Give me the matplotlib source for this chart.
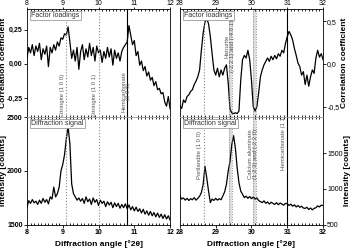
import numpy as np
import matplotlib
matplotlib.use('Agg')
import matplotlib.pyplot as plt
from matplotlib.ticker import FuncFormatter, MultipleLocator

plt.rcParams['font.family'] = ['Liberation Sans', 'DejaVu Sans']

# angle grids (step 0.05 deg 2theta)
ang_low = np.round(np.arange(8.0, 12.0001, 0.05), 2)
ang_high = np.round(np.arange(28.0, 32.0001, 0.05), 2)

# factor loadings, 8-12 deg
corr_low = [0.04, 0.12, 0.08, 0.14, 0.06, 0.13, 0.09, 0.15, 0.03, 0.11,
            0.07, 0.13, -0.02, 0.12, 0.08, 0.14, 0.10, 0.16, 0.13, 0.19,
            0.18, 0.22, 0.21, 0.27, 0.16, 0.04, 0.10, 0.02, 0.12, -0.04,
            0.09, 0.14, 0.03, 0.11, 0.05, 0.15, 0.06, 0.12, 0.02, 0.13,
            0.08, 0.10, 0.01, 0.09, 0.04, 0.12, 0.05, 0.11, -0.01, 0.10,
            0.04, 0.08, 0.02, 0.09, 0.12, 0.14, 0.16, 0.28, 0.21, 0.14,
            0.17, 0.06, 0.09, -0.01, 0.02, -0.05, -0.02, -0.09, -0.06, -0.12,
            -0.10, -0.16, -0.13, -0.19, -0.18, -0.22, -0.21, -0.28, -0.31, -0.24,
            -0.33]

# diffraction signal, 8-12 deg
int_low = [1660, 1725, 1700, 1735, 1705, 1720, 1690, 1730, 1700, 1745,
           1710, 1735, 1695, 1760, 1740, 1850, 1760, 1790, 1850, 2000,
           2060, 2150, 2300, 2410, 2250, 1880, 1790, 1760, 1730, 1750,
           1720, 1745, 1700, 1760, 1715, 1740, 1690, 1750, 1710, 1735,
           1680, 1730, 1700, 1720, 1670, 1715, 1685, 1710, 1660, 1705,
           1670, 1700, 1655, 1690, 1660, 1695, 1650, 1685, 1640, 1670,
           1630, 1665, 1625, 1650, 1610, 1645, 1600, 1630, 1590, 1625,
           1585, 1615, 1575, 1610, 1570, 1600, 1560, 1595, 1555, 1585,
           1545]

# factor loadings, 28-32 deg
corr_high = [-0.49, -0.52, -0.42, -0.45, -0.38, -0.36, -0.32, -0.30, -0.24, -0.20,
             -0.15, -0.07, 0.16, 0.36, 0.49, 0.53, 0.47, 0.32, 0.12, -0.07,
             -0.13, -0.05, -0.15, -0.07, -0.13, -0.05, -0.01, -0.22, -0.53, -0.57,
             -0.58, -0.57, -0.58, -0.55, -0.19, 0.05, 0.10, 0.07, 0.16, 0.05,
             -0.19, -0.50, -0.55, -0.50, -0.34, -0.15, -0.07, -0.01, 0.03, 0.07,
             0.03, 0.09, 0.05, 0.10, 0.06, 0.12, 0.09, 0.16, 0.13, 0.24,
             0.32, 0.38, 0.34, 0.28, 0.18, 0.10, 0.01, -0.03, -0.13, -0.09,
             -0.24, -0.13, -0.26, -0.15, -0.07, -0.11, 0.07, 0.16, 0.08, 0.12,
             0.05]

# diffraction signal, 28-32 deg
int_high = [903, 860, 875, 845, 870, 840, 865, 850, 880, 845,
            870, 900, 950, 1064, 1316, 1155, 972, 811, 860, 840,
            870, 845, 865, 850, 903, 960, 1064, 1250, 1385, 1615,
            1740, 1570, 1293, 1087, 972, 926, 880, 900, 870, 895,
            865, 890, 860, 875, 840, 825, 810, 835, 800, 820,
            790, 815, 800, 785, 810, 780, 805, 790, 775, 800,
            795, 770, 790, 760, 780, 750, 770, 745, 760, 735,
            730, 745, 715, 735, 710, 730, 740, 765, 750, 775,
            770]

corr_label = 'Correlation coefficient'
int_label = 'Intensity [counts]'
x_label = 'Diffraction angle [°2θ]'

fig = plt.figure(figsize=(3.5, 2.48), dpi=100)
axL_top = fig.add_axes([0.077, 0.528, 0.409, 0.435])
axL_bot = fig.add_axes([0.077, 0.093, 0.409, 0.435])
axR_top = fig.add_axes([0.514, 0.528, 0.409, 0.435])
axR_bot = fig.add_axes([0.514, 0.093, 0.409, 0.435])

fs = 5
ann_col = '#555555'


def comma_fmt(nd):
    return FuncFormatter(lambda v, p: ('{:.%df}' % nd).format(v).replace('.', ','))


def style(ax, top, right):
    ax.tick_params(axis='both', labelsize=fs, width=0.6, length=2, pad=1)
    for lab in ax.get_xticklabels() + ax.get_yticklabels():
        lab.set_fontweight('bold')
    ax.xaxis.set_major_locator(MultipleLocator(1))
    ax.xaxis.set_minor_locator(MultipleLocator(0.1))
    ax.tick_params(axis='x', which='minor', direction='in', length=1.5,
                   width=0.6, top=True, bottom=True)
    ax.tick_params(axis='x', which='major', top=top, bottom=not top,
                   labeltop=top, labelbottom=not top)
    if top:
        ax.tick_params(axis='x', which='major', pad=0.3, length=1.5)
    ax.tick_params(axis='y', which='major', left=not right, right=right,
                   labelleft=not right, labelright=right)
    for s in ax.spines.values():
        s.set_linewidth(0.6)
    ax.spines['bottom' if top else 'top'].set_color('#999999')


def boxlabel(ax, txt):
    ax.text(0.03, 0.975, txt, transform=ax.transAxes, fontsize=fs, va='top',
            ha='left', color='#333333',
            bbox=dict(boxstyle='square,pad=0.15', fc='white', ec='#888888', lw=0.5))


def vline(ax, x, ls):
    ax.axvline(x, color='#888888' if ls == ':' else 'black', ls=ls, lw=0.8)


def band(ax, x0, x1):
    ax.axvspan(x0, x1, color='#dddddd', lw=0)
    ax.axvline(x0, color='#888888', ls=':', lw=0.7)
    ax.axvline(x1, color='#888888', ls=':', lw=0.7)


def rtext(ax, x, y, txt, ha='center', va='center'):
    ax.text(x, y, txt, rotation=90, fontsize=4.3, color=ann_col, ha=ha, va=va,
            multialignment='center', clip_on=True, linespacing=1.0)


# left, top
ax = axL_top
ax.plot(ang_low, corr_low, color='black', lw=0.9)
ax.set_xlim(8, 12)
ax.set_ylim(-0.39, 0.40)
ax.set_yticks([-0.25, 0, 0.25])
ax.yaxis.set_major_formatter(comma_fmt(2))
vline(ax, 9.1, ':')
vline(ax, 10.0, ':')
vline(ax, 10.8, '-')
rtext(ax, 9.06, -0.23, 'Ettringite (1 0 0)', ha='right')
rtext(ax, 9.96, -0.23, 'Ettringite (1 0 1)', ha='right')
rtext(ax, 10.78, -0.2, 'Hemicarbonate\n(0 0 6)')
boxlabel(ax, 'Factor loadings')
ax.set_ylabel(corr_label, fontsize=6, fontweight='bold')
ax.yaxis.set_label_coords(-0.138, 0.5)
style(ax, top=True, right=False)

# left, bottom
ax = axL_bot
ax.plot(ang_low, int_low, color='black', lw=0.9)
ax.set_xlim(8, 12)
ax.set_ylim(1500, 2500)
ax.set_yticks([1500, 2000, 2500])
vline(ax, 9.1, ':')
vline(ax, 10.0, ':')
vline(ax, 10.8, '-')
boxlabel(ax, 'Diffraction signal')
ax.set_ylabel(int_label, fontsize=6, fontweight='bold')
ax.yaxis.set_label_coords(-0.138, 0.5)
ax.set_xlabel(x_label, fontsize=6, fontweight='bold', labelpad=3)
style(ax, top=False, right=False)

# right, top
ax = axR_top
ax.plot(ang_high, corr_high, color='black', lw=0.9)
ax.set_xlim(28, 32)
ax.set_ylim(-0.62, 0.64)
ax.set_yticks([-0.5, 0, 0.5])
ax.yaxis.set_major_formatter(comma_fmt(1))
vline(ax, 28.68, ':')
band(ax, 29.36, 29.46)
band(ax, 30.04, 30.12)
vline(ax, 31.0, '-')
rtext(ax, 29.39, 0.21, 'Hatrurite\n(-2 2 1) and (-4 0 1)')
boxlabel(ax, 'Factor loadings')
ax.yaxis.set_label_position('right')
ax.set_ylabel(corr_label, fontsize=6, fontweight='bold', labelpad=1,
              rotation=90)
style(ax, top=True, right=True)

# right, bottom
ax = axR_bot
ax.plot(ang_high, int_high, color='black', lw=0.9)
ax.set_xlim(28, 32)
ax.set_ylim(500, 2000)
ax.set_yticks([500, 1000, 1500])
vline(ax, 28.68, ':')
band(ax, 29.36, 29.46)
band(ax, 30.04, 30.12)
vline(ax, 31.0, '-')
rtext(ax, 28.62, 1470, 'Portlandite (1 0 0)', ha='right')
rtext(ax, 30.05, 1490, 'Calcium aluminate\n(1 2 3) and (-2 2 0)')
rtext(ax, 30.96, 1680, 'Hemicarbonate (1 1 0)', ha='right')
boxlabel(ax, 'Diffraction signal')
ax.yaxis.set_label_position('right')
ax.set_ylabel(int_label, fontsize=6, fontweight='bold', labelpad=1,
              rotation=90)
ax.set_xlabel(x_label, fontsize=6, fontweight='bold', labelpad=3)
style(ax, top=False, right=True)

fig.savefig('out.png', dpi=100)
